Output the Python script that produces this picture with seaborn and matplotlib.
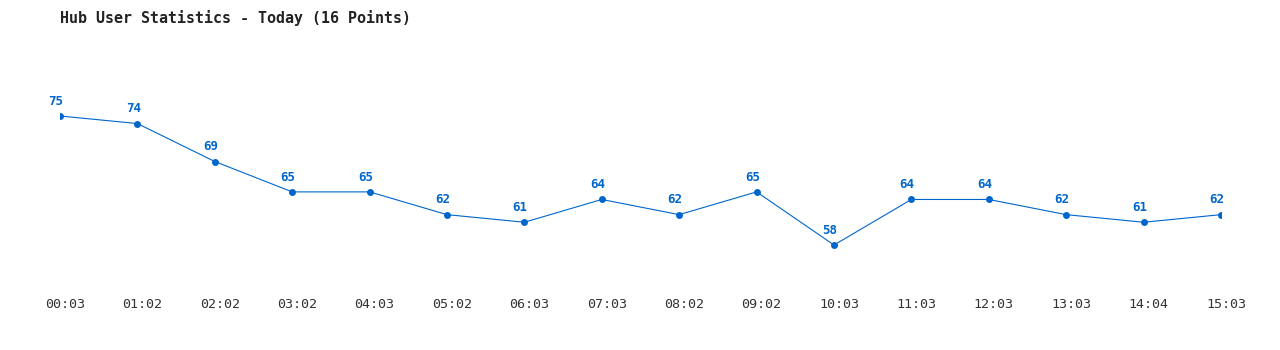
import matplotlib
matplotlib.use("Agg")
import matplotlib.pyplot as plt
import matplotlib.transforms as mtransforms
import seaborn as sns
import pandas as pd

times = ["00:03", "01:02", "02:02", "03:02", "04:03", "05:02", "06:03", "07:03",
         "08:02", "09:02", "10:03", "11:03", "12:03", "13:03", "14:04", "15:03"]
users = [75, 74, 69, 65, 65, 62, 61, 64, 62, 65, 58, 64, 64, 62, 61, 62]

sns.set_theme(style="white")
plt.rcParams['font.family'] = ['DejaVu Sans Mono']

color = "#0066CC"
df = pd.DataFrame({"pos": range(len(times)), "users": users})

fig = plt.figure(figsize=(12.8, 3.5), dpi=100)
ax = fig.add_axes([60/1280, 70/350, (1221-60)/1280, 200/350])
sns.lineplot(data=df, x="pos", y="users", ax=ax, color=color, linewidth=0.8,
             marker="o", markersize=5, markeredgewidth=0, markerfacecolor=color)

for x, v in zip(df["pos"], df["users"]):
    ax.annotate(str(v), (x, v), xytext=(-3, 6), textcoords="offset points",
                ha="center", va="bottom", fontsize=9, fontweight="bold", color=color)

ax.set_xlim(0, len(times) - 1)
ax.set_ylim(53.39, 79.74)
ax.set_xticks(list(df["pos"]))
ax.set_xticklabels(times, fontsize=9.6, color="#333333")
ax.tick_params(axis="x", length=0, pad=13)
shift = mtransforms.ScaledTranslation(5/100, 0, fig.dpi_scale_trans)
for lbl in ax.get_xticklabels():
    lbl.set_transform(lbl.get_transform() + shift)
ax.set_yticks([])
ax.set_xlabel("")
ax.set_ylabel("")
for s in ax.spines.values():
    s.set_visible(False)

fig.text(60/1280, 1 - 18/350, "Hub User Statistics - Today (16 Points)",
         fontsize=10.8, fontweight="bold", color="#222222", ha="left", va="center")

fig.savefig("out.png", dpi=100, facecolor="white")
